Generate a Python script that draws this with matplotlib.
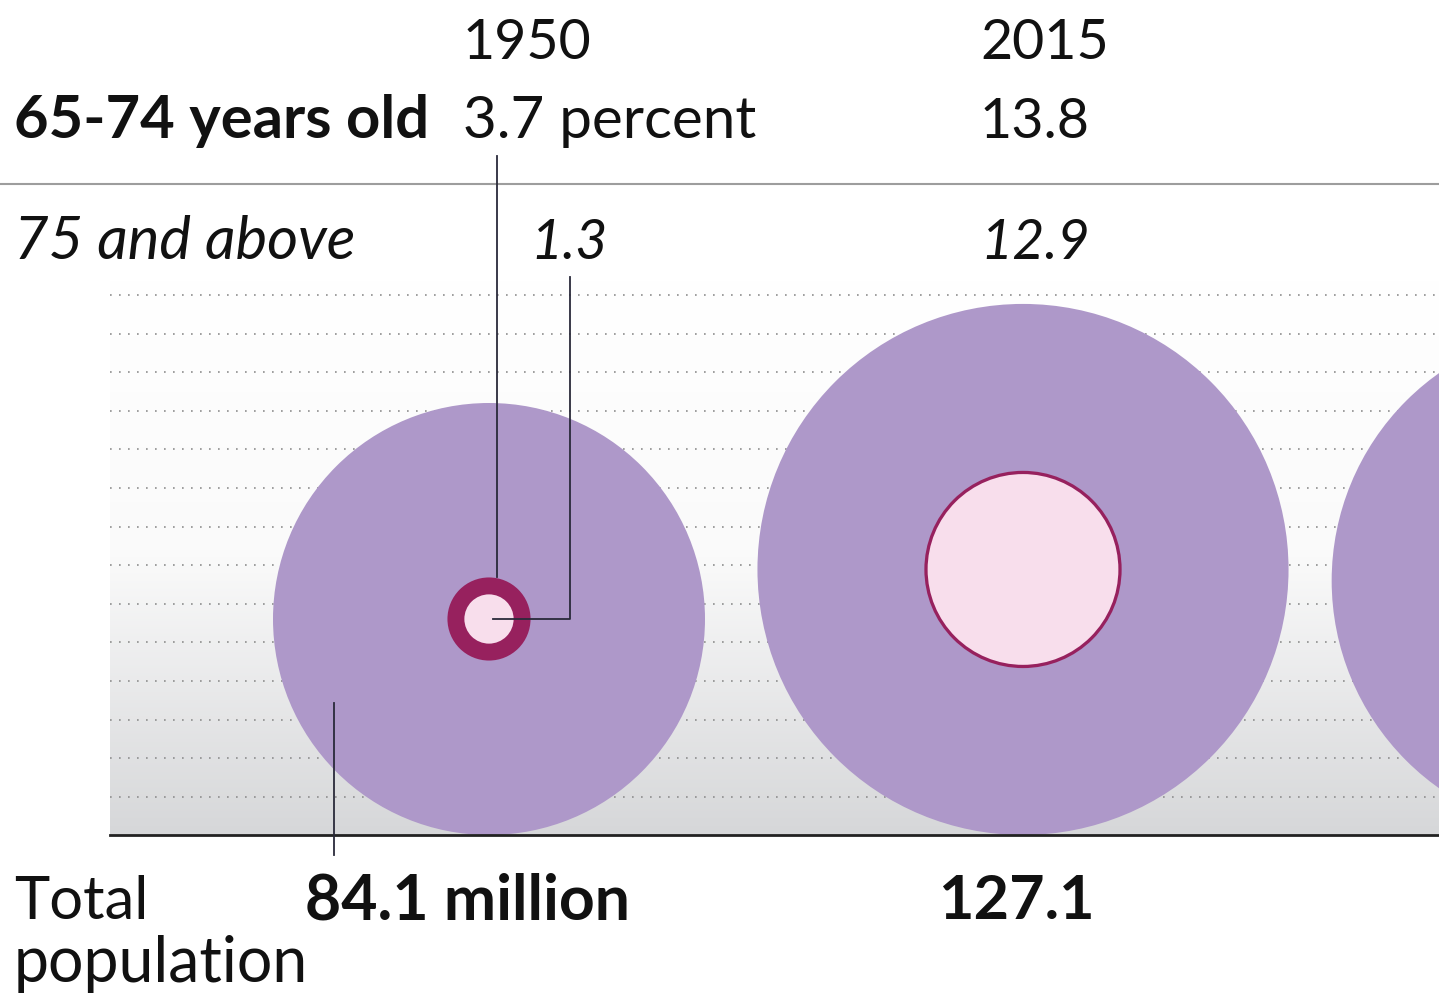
import numpy as np
import matplotlib.pyplot as plt
from matplotlib.patches import Circle
from matplotlib.colors import LinearSegmentedColormap

plt.rcParams['font.family'] = ['Lato', 'DejaVu Sans']

# Japan: total population and share of elderly
years = ["1950", "2015", "2030"]
population = [84.1, 127.1, 116.6]   # million, last one only partly visible
pct_65_74 = [3.7, 13.8]
pct_75_up = [1.3, 12.9]
pop_labels = ["84.1 million", "127.1"]
pct_labels = ["3.7 percent", "13.8"]

# layout (pixels)
W, H = 1439, 993
base_y = 835
centers_x = [489, 1023, 1586]
label_x = [463, 980]
scale = 216 / np.sqrt(population[0])   # radius per sqrt(million)

PURPLE = "#ae98c9"
DARK = "#97215e"
PINK = "#f8deec"
INK = "#111111"

fig = plt.figure(figsize=(W / 100, H / 100), dpi=100)
ax = fig.add_axes([0, 0, 1, 1])
ax.set_xlim(0, W)
ax.set_ylim(H, 0)
ax.axis("off")

# grey gradient panel with dotted rules
grad = np.linspace(0, 1, 256).reshape(-1, 1)
cmap = LinearSegmentedColormap.from_list("bg", ["#ffffff", "#fafafa", "#d6d7d9"])
ax.imshow(grad, cmap=cmap, extent=(110, W, base_y, 280), aspect="auto", zorder=0)
for y in 295 + 38.6 * np.arange(14):
    ax.plot([110, W], [y, y], color="#8e8e8e", lw=1.2, ls=(0, (1, 4.4)), zorder=1)
ax.plot([110, W], [base_y, base_y], color="#222222", lw=2.0, zorder=5)

# circles
for i, pop in enumerate(population):
    R = scale * np.sqrt(pop)
    cx, cy = centers_x[i], base_y - R
    ax.add_patch(Circle((cx, cy), R, color=PURPLE, lw=0, zorder=2))
    if i < len(pct_65_74):
        r1 = R * np.sqrt(pct_65_74[i] / 100)
        r2 = R * np.sqrt(pct_75_up[i] / 100)
        ax.add_patch(Circle((cx, cy), r1, color=DARK, lw=0, zorder=3))
        ax.add_patch(Circle((cx, cy), r2, color=PINK, lw=0, zorder=4))

# header rows
ax.plot([0, W], [184, 184], color="#9d9d9d", lw=1.5, zorder=1)
ax.text(14, 138, "65-74 years old", fontsize=43, fontweight="bold", color=INK)
ax.text(14, 259, "75 and above", fontsize=43, style="italic", color=INK)
for i in range(2):
    ax.text(label_x[i], 59, years[i], fontsize=40, color=INK)
ax.text(label_x[0], 138, pct_labels[0], fontsize=42, color=INK)
ax.text(label_x[1], 138, pct_labels[1], fontsize=40, color=INK)
ax.text(530, 259, f"{pct_75_up[0]}", fontsize=40, style="italic", color=INK)
ax.text(label_x[1], 259, f"{pct_75_up[1]}", fontsize=40, style="italic", color=INK)

# bottom labels
ax.text(14, 919, "Total", fontsize=43, color=INK)
ax.text(14, 982, "population", fontsize=45, color=INK)
ax.text(305, 919, pop_labels[0], fontsize=45, fontweight="bold", color=INK)
ax.text(938, 919, pop_labels[1], fontsize=44, fontweight="bold", color=INK)

# leader lines for 1950
R0 = scale * np.sqrt(population[0])
cy0 = base_y - R0
r1 = R0 * np.sqrt(pct_65_74[0] / 100)
ax.plot([497, 497], [156, cy0 - r1], color="#2a2a3a", lw=1.3, zorder=6)
ax.plot([570, 570, 493], [277, cy0, cy0], color="#2a2a3a", lw=1.3, zorder=6)
ax.plot([334, 334], [703, 855], color="#2a2a3a", lw=1.3, zorder=6)

fig.savefig("out.png", dpi=100)
